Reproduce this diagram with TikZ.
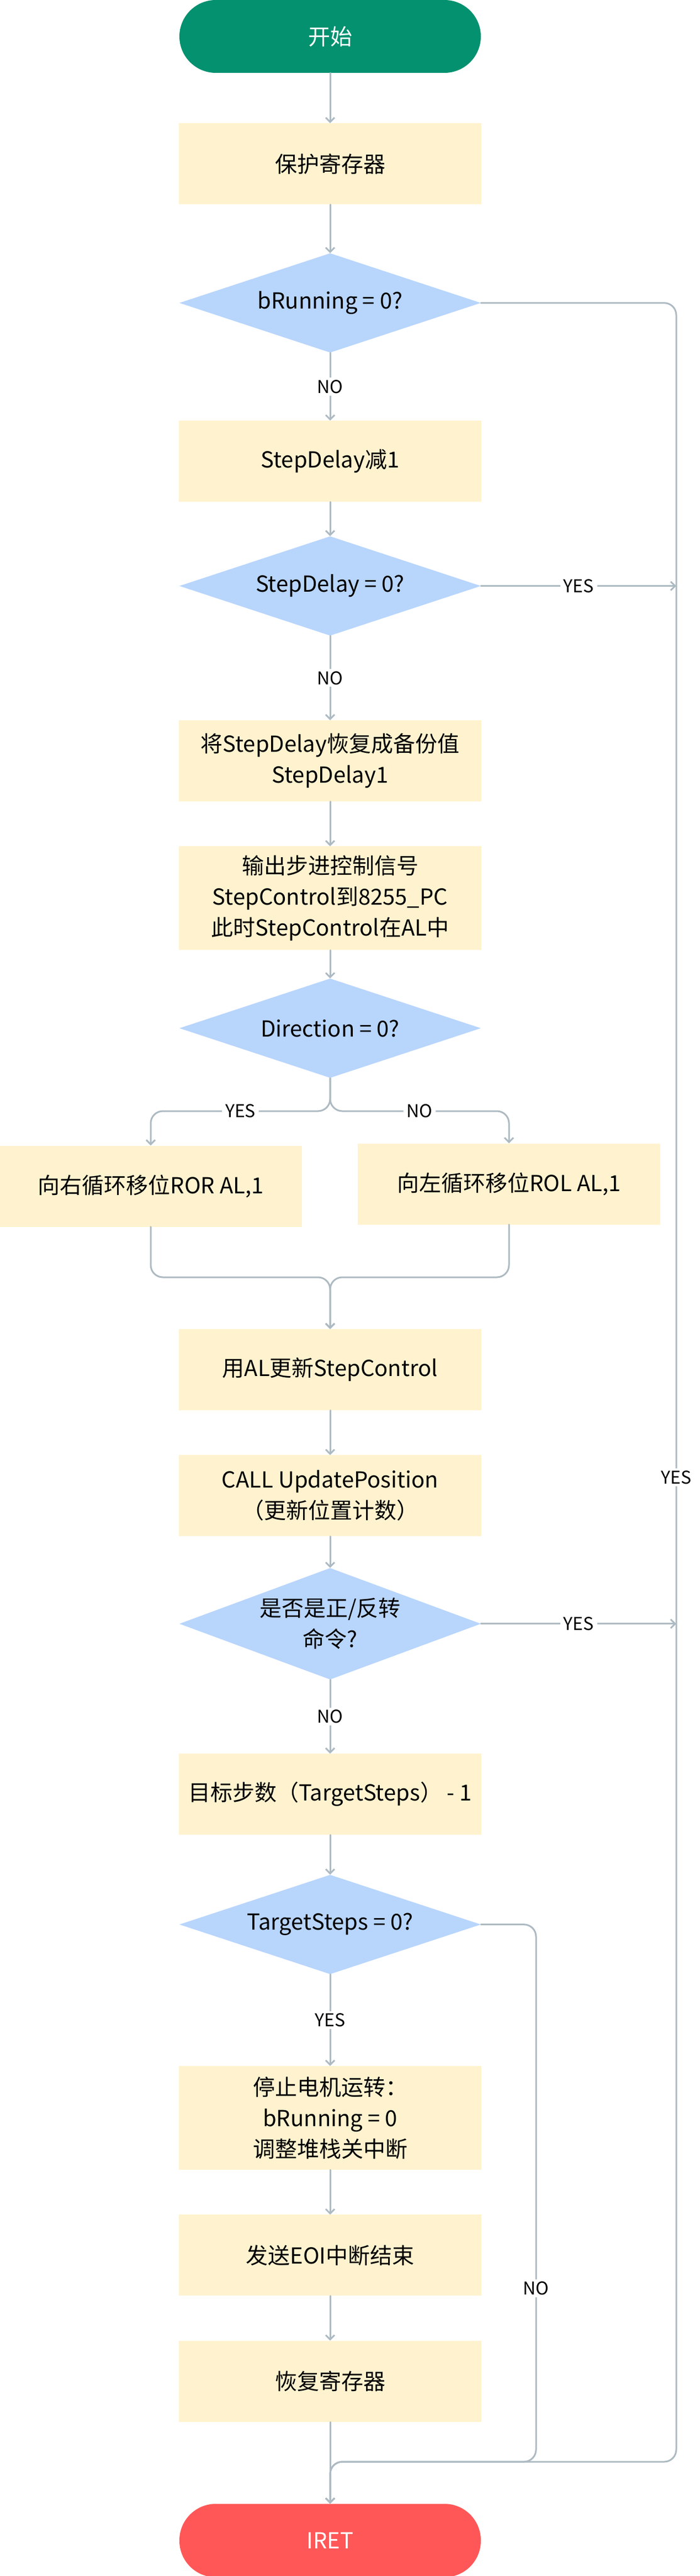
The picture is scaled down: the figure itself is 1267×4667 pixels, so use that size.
\documentclass[tikz,border=0pt]{standalone}
\usepackage{fontspec}
\setmainfont{Noto Sans CJK SC}
\usepackage{xcolor}
\usetikzlibrary{arrows.meta, positioning, shapes.geometric}

\definecolor{startgreen}{HTML}{03916F}
\definecolor{endred}{HTML}{FF5757}
\definecolor{boxyellow}{HTML}{FFF3CF}
\definecolor{decblue}{HTML}{B8D5FC}
\definecolor{linegray}{HTML}{ADBAC2}
\newcommand{\mainsize}{\fontsize{40pt}{56pt}\selectfont}
\newcommand{\lblsize}{\fontsize{32pt}{36pt}\selectfont}

\begin{document}
\begin{tikzpicture}[
    x=1pt, y=1pt,
    terminal/.style={rounded corners=66pt, minimum width=546pt, minimum height=132pt,
                     text=white, font=\mainsize},
    proc/.style={fill=boxyellow, minimum width=548pt, minimum height=147pt,
                 align=center, font=\mainsize},
    tallproc/.style={proc, minimum height=188pt},
    decision/.style={diamond, fill=decblue, aspect=3, inner sep=0pt,
                     minimum width=546pt, minimum height=180pt,
                     align=center, font=\mainsize},
    lbl/.style={fill=white, font=\lblsize, inner xsep=6pt, inner ysep=4pt},
    arr/.style={-{Straight Barb[length=8pt, width=16pt]}, line width=3pt,
                draw=linegray, line cap=round},
    elbow/.style={arr, rounded corners=22pt},
    node distance=80pt
]
\useasboundingbox (0,0) rectangle (1267,-4667);

\coordinate (rail) at (1225,0);
\coordinate (norail) at (971,0);
\coordinate (split) at (0,-2013);
\coordinate (merge) at (0,-2314);
\coordinate (join) at (0,-4460);

\node[terminal, fill=startgreen] (start) at (598,-66) {开始};
\node[proc, below=91pt of start] (save) {保护寄存器};
\node[decision, below=88pt of save] (running) {bRunning = 0?};
\node[proc, below=123pt of running] (dec) {StepDelay减1};
\node[decision, below=62pt of dec] (delay) {StepDelay = 0?};
\node[proc, below=153pt of delay] (reload) {将StepDelay恢复成备份值\\StepDelay1};
\node[tallproc, below=81pt of reload] (output)
    {输出步进控制信号\\StepControl到8255\_PC\\此时StepControl在AL中};
\node[decision, below=51pt of output] (dir) {Direction = 0?};
\node[proc] (ror) at (273,-2149) {向右循环移位ROR AL,1};
\node[proc] (rol) at (922,-2145) {向左循环移位ROL AL,1};
\node[proc] (update) at (598,-2481.5) {用AL更新StepControl};
\node[proc, below=81pt of update] (call) {CALL UpdatePosition\\（更新位置计数）};
\node[decision, below=57pt of call, aspect=2.7, minimum height=202pt] (turn)
    {是否是正/反转\\命令?};
\node[proc, below=134pt of turn] (target) {目标步数（TargetSteps） - 1};
\node[decision, below=72pt of target] (tgtzero) {TargetSteps = 0?};
\node[tallproc, below=166pt of tgtzero] (stop) {停止电机运转：\\bRunning = 0\\调整堆栈关中断};
\node[proc, below=81pt of stop] (eoi) {发送EOI中断结束};
\node[proc, below=81pt of eoi] (restore) {恢复寄存器};
\node[terminal, fill=endred, below=148pt of restore, minimum height=133pt] (end) {IRET};

\draw[arr] (start) -- (save);
\draw[arr] (save) -- (running);
\draw[arr] (running) -- node[lbl] {NO} (dec);
\draw[arr] (dec) -- (delay);
\draw[arr] (delay.east) -- node[lbl] {YES} (delay.east -| rail);
\draw[arr] (delay) -- node[lbl] {NO} (reload);
\draw[arr] (reload) -- (output);
\draw[arr] (output) -- (dir);
\draw[elbow] (dir.south) -- (dir.south |- split) -- node[lbl] {YES} (split -| ror) -- (ror.north);
\draw[elbow] (dir.south) -- (dir.south |- split) -- node[lbl] {NO} (split -| rol) -- (rol.north);
\draw[elbow] (ror.south) -- (ror.south |- merge) -- (merge -| update) -- (update.north);
\draw[elbow] (rol.south) -- (rol.south |- merge) -- (merge -| update) -- (update.north);
\draw[arr] (update) -- (call);
\draw[arr] (call) -- (turn);
\draw[arr] (turn.east) -- node[lbl] {YES} (turn.east -| rail);
\draw[arr] (turn) -- node[lbl] {NO} (target);
\draw[arr] (target) -- (tgtzero);
\draw[arr] (tgtzero) -- node[lbl] {YES} (stop);
\draw[arr] (stop) -- (eoi);
\draw[arr] (eoi) -- (restore);
\draw[arr] (restore) -- (end);
\draw[elbow] (running.east) -- (running.east -| rail)
    -- node[lbl, pos=.544] {YES} (rail |- join) -- (join -| end) -- (end.north);
\draw[elbow] (tgtzero.east) -- (tgtzero.east -| norail)
    -- node[lbl, pos=.677] {NO} (norail |- join) -- (join -| end) -- (end.north);
\end{tikzpicture}
\end{document}
